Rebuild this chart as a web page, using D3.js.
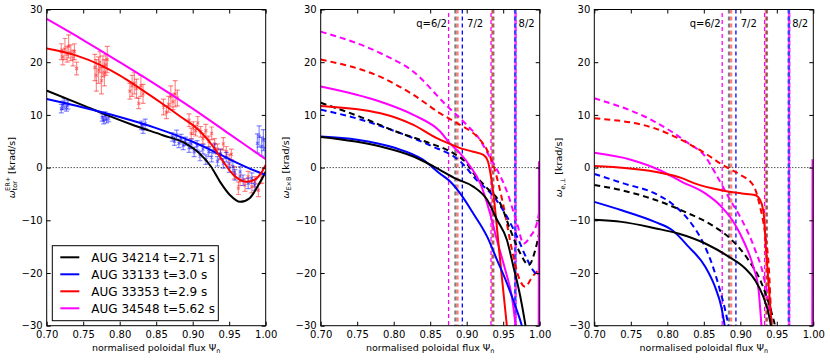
<!DOCTYPE html>
<html>
<head>
<meta charset="utf-8">
<script src="https://cdn.jsdelivr.net/npm/d3@7"></script>
<style>
  body { margin: 0; background: #fff; }
  svg  { font-family: "DejaVu Sans", sans-serif; }
</style>
</head>
<body>
<svg id="chart" width="830" height="360"></svg>
<script>
// ---- values ----
var shots      = ['34214', '33133', '33353', '34548'];
var shotLabels = ['AUG 34214 t=2.71 s', 'AUG 33133 t=3.0 s', 'AUG 33353 t=2.9 s', 'AUG 34548 t=5.62 s'];
var xTicks     = [0.70, 0.75, 0.80, 0.85, 0.90, 0.95, 1.00];
var yTicks     = [-30, -20, -10, 0, 10, 20, 30];
var qLabels    = ['q=6/2', '7/2', '8/2'];
var qLabelPsi  = [0.873, 0.9005, 0.971];

// rational surface positions per shot
var qBlack   = [0.8845, 0.9365];
var qRed     = [0.8875, 0.9350];
var qBlue    = [0.8940, 0.9665];
var qMagenta = [0.8752, 0.9333, 0.9670];

// left panel: toroidal rotation fits
var torBlack   = [[0.70,14.6],[0.75,11.8],[0.78,10.1],[0.82,8.0],[0.86,6.1],[0.89,4.6],[0.91,2.6],[0.925,0.2],[0.9375,-2.7],[0.951,-5.2],[0.965,-6.5],[0.978,-5.8],[0.99,-3.3],[1.0,-0.8]];
var torBlue    = [[0.70,13.0],[0.75,11.4],[0.80,9.6],[0.85,7.5],[0.90,4.9],[0.93,3.0],[0.95,1.6],[0.975,0.0],[1.0,-1.4]];
var torRed     = [[0.70,22.6],[0.74,21.3],[0.773,19.5],[0.80,17.5],[0.828,15.0],[0.864,11.6],[0.883,9.7],[0.91,6.9],[0.928,4.0],[0.942,1.1],[0.956,-1.4],[0.974,-2.7],[0.985,-2.3],[0.992,-1.4],[1.0,0.5]];
var torMagenta = [[0.70,28.2],[0.75,24.2],[0.80,20.0],[0.85,15.7],[0.90,11.2],[0.95,6.4],[1.0,1.6]];

// left panel: measured points (33353 red, 33133 blue)
var redPsi = [0.720,0.722,0.725,0.728,0.730,0.733,0.736,0.738,0.741,
              0.766,0.768,0.771,0.773,0.775,0.777,0.779,0.781,0.783,
              0.814,0.817,0.820,0.823,0.826,0.829,0.832,
              0.860,0.864,0.867,0.870,0.873,0.876,0.879,
              0.895,0.898,0.901,0.904,0.907,0.911,0.914,0.918,0.922,0.926,0.930,0.934,0.938,0.942,0.946,0.950,0.953,
              0.957,0.9626,0.9648,0.9716,0.976,0.981,0.9853,0.990,0.9945];
var redVal = [22.0,21.0,22.5,21.5,23.0,21.8,20.8,22.0,18.8,
              19.0,17.5,18.5,20.0,16.5,19.2,18.0,19.5,20.5,
              14.5,15.5,16.0,15.0,12.2,15.5,14.0,
              11.5,10.5,12.0,13.5,12.5,14.0,13.2,
              9.0,6.5,7.5,7.0,8.5,6.8,5.5,7.0,5.0,6.5,4.5,3.5,2.5,4.5,3.0,1.5,2.5,
              -1.0,-3.9,-2.4,-3.3,-1.7,-3.6,-2.7,-4.3,-2.0];
var redErr = [1.5,1.5,2.0,1.5,2.2,1.5,1.5,1.5,1.2,
              2.5,3.0,2.5,2.0,2.5,2.0,2.5,2.0,2.5,
              1.5,2.0,2.0,1.8,1.0,2.0,1.8,
              1.5,1.2,1.5,2.0,1.5,2.5,1.5,
              1.2,1.0,1.2,1.0,1.2,1.0,1.0,1.2,1.0,1.2,1.0,1.0,1.0,1.2,1.0,1.0,1.0,
              1.2,1.2,1.0,1.2,1.0,1.2,1.0,1.2,1.0];
var bluePsi = [0.720,0.722,0.724,0.727,0.729,
               0.776,0.778,0.780,0.782,0.785,
               0.830,0.832,0.835,
               0.872,0.875,0.878,0.881,0.884,0.887,0.890,
               0.895,0.898,0.902,0.906,0.910,0.914,0.918,0.922,0.926,0.930,0.934,0.938,0.942,0.946,0.950,
               0.955,0.958,0.965,0.969,0.976,0.981,0.985,
               0.9886,0.991,0.9945,0.9968,0.999];
var blueVal = [11.2,11.8,12.2,11.5,11.9,
               9.5,9.0,9.8,9.2,9.4,
               8.0,7.3,8.3,
               5.8,5.0,6.2,4.6,5.5,4.2,5.0,
               3.8,4.5,3.0,4.2,2.2,3.5,1.5,3.0,2.0,3.6,1.2,2.6,0.8,2.0,0.0,
               0.2,-1.4,-0.8,-2.4,-3.0,-2.0,-3.3,
               4.6,5.9,4.0,5.2,3.7];
var blueErr = [0.8,0.8,0.9,0.8,0.8,
               0.7,0.7,0.8,0.7,0.7,
               0.8,0.8,0.9,
               0.8,0.8,0.9,0.8,0.8,0.8,0.8,
               0.9,0.9,0.9,0.9,0.9,0.9,0.9,0.9,0.9,0.9,0.9,0.9,0.9,0.9,0.9,
               1.0,1.0,1.0,1.0,1.0,1.0,1.0,
               1.8,2.0,1.8,2.0,1.8];

// middle panel: ExB rotation (solid) and dashed
var exbBlack       = [[0.70,5.8],[0.782,4.0],[0.827,2.1],[0.855,0.2],[0.8866,-2.2],[0.909,-3.6],[0.928,-6.1],[0.9415,-9.9],[0.955,-13.7],[0.964,-18.8],[0.9735,-24.5],[0.980,-29.5],[0.985,-34]];
var exbBlue        = [[0.70,5.9],[0.75,5.3],[0.80,3.8],[0.84,1.5],[0.864,-1.2],[0.877,-2.6],[0.891,-4.9],[0.909,-8.7],[0.928,-13.1],[0.9415,-17.5],[0.955,-21.9],[0.967,-26.4],[0.9755,-30],[0.98,-32.5]];
var exbRed         = [[0.70,11.7],[0.782,10.3],[0.827,8.1],[0.859,5.6],[0.877,4.5],[0.891,3.7],[0.909,3.0],[0.923,2.4],[0.929,1.2],[0.933,-1.5],[0.937,-5.5],[0.945,-16.5],[0.955,-30],[0.96,-37]];
var exbMagenta     = [[0.70,15.4],[0.782,12.5],[0.827,10.0],[0.864,6.8],[0.877,4.6],[0.891,2.7],[0.905,0.2],[0.9186,-3.0],[0.932,-8.7],[0.9415,-13.8],[0.953,-19.5],[0.962,-24.6],[0.967,-30],[0.97,-34],
                      null,[0.9985,-40],[0.999,1.2]];
var exbBlackDash   = [[0.70,12.3],[0.7585,9.4],[0.804,6.8],[0.85,4.6],[0.882,2.7],[0.90,0.8],[0.9094,-1.1],[0.928,-3.9],[0.946,-6.8],[0.96,-11.9],[0.9735,-16.3],[0.985,-18.5],[0.994,-15.6],[1.0,-12]];
var exbBlueDash    = [[0.70,11.0],[0.76,8.9],[0.80,7.0],[0.85,4.2],[0.891,1.2],[0.914,-2.4],[0.937,-5.5],[0.955,-9.3],[0.969,-13.1],[0.983,-17.5],[0.992,-19.7],[0.997,-20.5],[1.0,-19]];
var exbRedDash     = [[0.70,20.5],[0.782,17.2],[0.827,13.8],[0.8637,10.3],[0.891,8.1],[0.914,5.9],[0.928,3.3],[0.937,0.2],[0.9506,-7.4],[0.962,-15.6],[0.971,-20.7],[0.980,-22.6],[0.990,-20.7],[0.998,-19.5]];
var exbMagentaDash = [[0.70,25.8],[0.782,21.7],[0.827,18.2],[0.873,11.7],[0.900,8.1],[0.9186,5.2],[0.930,2.4],[0.94,0.0],[0.955,-4.5],[0.969,-10.6],[0.978,-14.4],[0.987,-13.1],[0.996,-10.6],[1.0,-8]];

// right panel: electron perpendicular rotation
var perpBlack       = [[0.70,-9.9],[0.7375,-10.3],[0.783,-11.5],[0.815,-12.5],[0.852,-14.4],[0.884,-16.9],[0.9064,-19.1],[0.920,-21.3],[0.9315,-24.5],[0.9406,-28.9],[0.944,-32]];
var perpBlue        = [[0.70,-6.5],[0.7375,-8.1],[0.783,-10.3],[0.806,-11.8],[0.829,-15.0],[0.852,-18.8],[0.8653,-22.6],[0.8744,-26.7],[0.8786,-30],[0.882,-33]];
var perpRed         = [[0.70,0.3],[0.783,-0.8],[0.82,-2.0],[0.8375,-3.0],[0.874,-4.3],[0.902,-4.9],[0.920,-5.2],[0.927,-6.1],[0.932,-8.7],[0.935,-15],[0.939,-22.6],[0.943,-30],[0.945,-34]];
var perpMagenta     = [[0.70,2.8],[0.75,1.5],[0.79,-0.5],[0.82,-2.7],[0.852,-4.9],[0.874,-7.4],[0.892,-10.6],[0.906,-14.4],[0.9178,-18.8],[0.925,-23.2],[0.929,-30],[0.931,-34],
                       null,[0.9985,-40],[0.999,1.6]];
var perpBlackDash   = [[0.70,-3.3],[0.7375,-4.3],[0.783,-6.1],[0.829,-8.7],[0.861,-10.9],[0.888,-13.7],[0.911,-17.5],[0.929,-21.9],[0.943,-27.6],[0.9475,-30],[0.95,-32]];
var perpBlueDash    = [[0.70,-1.2],[0.74,-3.0],[0.783,-4.9],[0.806,-6.8],[0.829,-9.9],[0.847,-13.7],[0.861,-18.2],[0.872,-23.2],[0.8813,-28.3],[0.885,-31]];
var perpRedDash     = [[0.70,9.35],[0.783,7.45],[0.82,5.2],[0.852,2.7],[0.877,0.4],[0.899,-1.3],[0.918,-3.4],[0.927,-7.4],[0.934,-12.5],[0.939,-18.8],[0.943,-30],[0.945,-34]];
var perpMagentaDash = [[0.70,13.15],[0.783,8.7],[0.806,6.8],[0.829,4.6],[0.852,2.1],[0.8676,-1.5],[0.886,-6.1],[0.902,-9.9],[0.92,-15.5],[0.932,-20.7],[0.939,-26.4],[0.941,-30],[0.943,-33]];

// ---- layout / style ----
var colors    = { '34214': '#000000', '33133': '#0000ff', '33353': '#ff0000', '34548': '#ff00ff' };
var plotTop   = 9.5;
var W         = 219;
var H         = 316.2;
var panelLeft = [46.7, 320.7, 594.3];

var svg = d3.select('#chart');

function drawPanel(idx, opts) {

  var g = svg.append('g')
             .attr('transform', 'translate(' + panelLeft[idx] + ',' + plotTop + ')');

  var x = d3.scaleLinear().domain([0.7, 1.0]).range([0, W]);
  var y = d3.scaleLinear().domain([-30, 30]).range([H, 0]);

  g.append('clipPath')
   .attr('id', 'clip' + idx)
   .append('rect')
   .attr('width', W)
   .attr('height', H);

  var plot = g.append('g').attr('clip-path', 'url(#clip' + idx + ')');

  // dotted zero line
  plot.append('line')
      .attr('x1', 0).attr('x2', W)
      .attr('y1', y(0)).attr('y2', y(0))
      .attr('stroke', '#000')
      .attr('stroke-width', 1)
      .attr('stroke-dasharray', '1,2');

  if (opts.points) {
    opts.points.forEach(function(p) {
      var pg = plot.append('g')
                   .attr('stroke', p.color)
                   .attr('stroke-opacity', 0.45)
                   .attr('stroke-width', 1.2);
      p.psi.forEach(function(v, i) {
        var cx = x(v);
        var lo = y(p.val[i] - p.err[i]);
        var hi = y(p.val[i] + p.err[i]);
        var cy = y(p.val[i]);
        pg.append('line').attr('x1', cx).attr('x2', cx).attr('y1', lo).attr('y2', hi);
        pg.append('line').attr('x1', cx - 2.5).attr('x2', cx + 2.5).attr('y1', lo).attr('y2', lo);
        pg.append('line').attr('x1', cx - 2.5).attr('x2', cx + 2.5).attr('y1', hi).attr('y2', hi);
        pg.append('path').attr('d', 'M' + (cx - 1.5) + ',' + (cy - 1.5) + 'l3,3m0,-3l-3,3');
      });
    });
  }

  if (opts.qlines) {
    var qSets = [
      { psi: qMagenta, shot: '34548', w: 1.3, o: 1.0, off: 3.5 },
      { psi: qBlack,   shot: '34214', w: 2.2, o: 0.5, off: 0 },
      { psi: qRed,     shot: '33353', w: 2.2, o: 0.5, off: 0 },
      { psi: qBlue,    shot: '33133', w: 1.3, o: 1.0, off: 0 }
    ];
    qSets.forEach(function(s) {
      plot.selectAll(null)
          .data(s.psi)
          .enter()
          .append('line')
          .attr('x1', function(d) { return x(d); })
          .attr('x2', function(d) { return x(d); })
          .attr('y1', 0)
          .attr('y2', H)
          .attr('stroke', colors[s.shot])
          .attr('stroke-width', function(d) { return d > 0.96 ? 2.6 : s.w; })
          .attr('stroke-opacity', function(d) { return d > 0.96 ? 0.75 : s.o; })
          .attr('stroke-dasharray', '4,3')
          .attr('stroke-dashoffset', s.off);
    });

    g.selectAll('.qlab')
     .data(qLabels)
     .enter()
     .append('text')
     .attr('x', function(d, i) { return x(qLabelPsi[i]); })
     .attr('y', y(26.6))
     .attr('text-anchor', function(d, i) { return i == 0 ? 'end' : 'start'; })
     .attr('font-size', '10px')
     .text(function(d) { return d; });
  }

  var line = d3.line()
               .defined(function(d) { return d != null; })
               .x(function(d) { return x(d[0]); })
               .y(function(d) { return y(d[1]); })
               .curve(d3.curveMonotoneX);

  opts.series.forEach(function(s) {
    plot.append('path')
        .attr('d', line(s.data))
        .attr('fill', 'none')
        .attr('stroke', colors[s.shot])
        .attr('stroke-width', 2)
        .attr('stroke-dasharray', s.dash ? '6,4' : null);
  });

  // frame and inward ticks
  g.append('rect')
   .attr('width', W)
   .attr('height', H)
   .attr('fill', 'none')
   .attr('stroke', '#000')
   .attr('stroke-width', 1);

  var fmtX = d3.format('.2f');
  g.append('g')
   .attr('transform', 'translate(0,' + H + ')')
   .call(d3.axisBottom(x).tickValues(xTicks).tickFormat(fmtX).tickSize(-4).tickPadding(5));
  g.append('g')
   .call(d3.axisTop(x).tickValues(xTicks).tickFormat('').tickSize(-4));
  g.append('g')
   .call(d3.axisLeft(y).tickValues(yTicks).tickFormat(d3.format('d')).tickSize(-4).tickPadding(4));
  g.append('g')
   .attr('transform', 'translate(' + W + ',0)')
   .call(d3.axisRight(y).tickValues(yTicks).tickFormat('').tickSize(-4));

  g.selectAll('.domain').remove();
  g.selectAll('.tick line').attr('stroke', '#000');
  g.selectAll('.tick text')
   .attr('font-family', '"DejaVu Sans", sans-serif')
   .attr('font-size', '10px')
   .attr('fill', '#000');

  // x label
  var xl = g.append('text')
            .attr('x', W / 2)
            .attr('y', H + 25.5)
            .attr('text-anchor', 'middle')
            .attr('font-size', '9.5px');
  xl.append('tspan').text('normalised poloidal flux \u03A8');
  xl.append('tspan').attr('font-size', '6.5px').attr('dy', 2).text('n');

  // y label
  var yl = g.append('text')
            .attr('transform', 'translate(' + opts.ylabelX + ',' + H / 2 + ') rotate(-90)')
            .attr('text-anchor', 'middle')
            .attr('font-size', '9.5px');
  yl.append('tspan').attr('font-style', 'italic').text('\u03C9');
  yl.append('tspan').attr('font-size', '6.5px').attr('dy', 2.5).text(opts.ysub);
  if (opts.ysup) {
    yl.append('tspan').attr('font-size', '6.5px').attr('dx', -10).attr('dy', -7).text(opts.ysup);
    yl.append('tspan').attr('dy', 4.5).text(' [krad/s]');
  } else {
    yl.append('tspan').attr('dy', -2.5).text(' [krad/s]');
  }

  return g;
}

var g0 = drawPanel(0, {
  ylabelX: -32,
  ysub: 'tor',
  ysup: 'ER+',
  points: [
    { psi: redPsi,  val: redVal,  err: redErr,  color: '#ff0000' },
    { psi: bluePsi, val: blueVal, err: blueErr, color: '#0000ff' }
  ],
  series: [
    { data: torBlack,   shot: '34214' },
    { data: torBlue,    shot: '33133' },
    { data: torRed,     shot: '33353' },
    { data: torMagenta, shot: '34548' }
  ]
});

drawPanel(1, {
  ylabelX: -32,
  ysub: 'E\u00D7B',
  qlines: true,
  series: [
    { data: exbMagentaDash, shot: '34548', dash: true },
    { data: exbRedDash,     shot: '33353', dash: true },
    { data: exbBlueDash,    shot: '33133', dash: true },
    { data: exbBlackDash,   shot: '34214', dash: true },
    { data: exbMagenta,     shot: '34548' },
    { data: exbRed,         shot: '33353' },
    { data: exbBlue,        shot: '33133' },
    { data: exbBlack,       shot: '34214' }
  ]
});

drawPanel(2, {
  ylabelX: -32,
  ysub: 'e,\u22A5',
  qlines: true,
  series: [
    { data: perpMagentaDash, shot: '34548', dash: true },
    { data: perpRedDash,     shot: '33353', dash: true },
    { data: perpBlueDash,    shot: '33133', dash: true },
    { data: perpBlackDash,   shot: '34214', dash: true },
    { data: perpMagenta,     shot: '34548' },
    { data: perpRed,         shot: '33353' },
    { data: perpBlue,        shot: '33133' },
    { data: perpBlack,       shot: '34214' }
  ]
});

// legend in the left panel
var leg = g0.append('g').attr('transform', 'translate(5.6,236.2)');
leg.append('rect')
   .attr('width', 166)
   .attr('height', 75)
   .attr('fill', '#fff')
   .attr('stroke', '#000')
   .attr('stroke-width', 1);

var rows = leg.selectAll('.row')
              .data(shots)
              .enter()
              .append('g')
              .attr('transform', function(d, i) { return 'translate(0,' + (11.6 + i * 17) + ')'; });
rows.append('line')
    .attr('x1', 8).attr('x2', 27)
    .attr('stroke', function(d) { return colors[d]; })
    .attr('stroke-width', 2);
rows.append('text')
    .attr('x', 39)
    .attr('dy', '0.36em')
    .attr('font-size', '12px')
    .text(function(d, i) { return shotLabels[i]; });
</script>
</body>
</html>
